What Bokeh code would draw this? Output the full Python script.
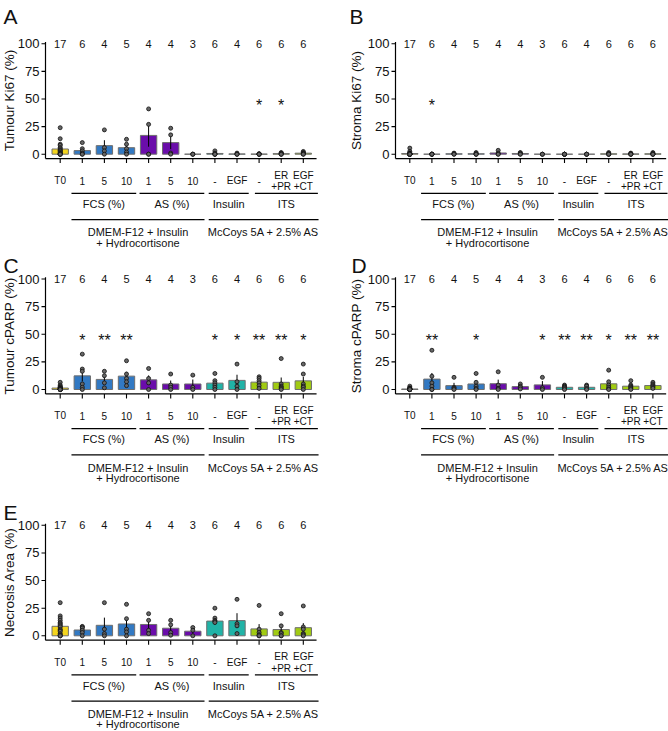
import numpy as np
from bokeh.plotting import figure
from bokeh.models import Range1d, ColumnDataSource
from bokeh.layouts import column, row
from bokeh.core.properties import value
from bokeh.embed import file_html
from bokeh.resources import INLINE

FONT = "Liberation Sans"

# ---------------- data ----------------
conditions = ["T0", "FCS 1", "FCS 5", "FCS 10", "AS 1", "AS 5", "AS 10",
              "Insulin -", "Insulin EGF", "ITS -", "ITS ER+PR", "ITS EGF+CT"]
tick_top = ["T0", "1", "5", "10", "1", "5", "10", "-", "EGF", "-", "ER", "EGF"]
tick_bottom = ["", "", "", "", "", "", "", "", "", "", "+PR", "+CT"]
n_per_condition = ["17", "6", "4", "5", "4", "4", "3", "6", "4", "6", "6", "6"]
condition_colors = ["#F4D51E", "#3279C3", "#3279C3", "#3279C3", "#6A0DAA", "#6A0DAA",
                    "#6A0DAA", "#21B3A7", "#21B3A7", "#A1CB12", "#A1CB12", "#A1CB12"]
group1_labels = ["FCS (%)", "AS (%)", "Insulin", "ITS"]
group2_labels = ["DMEM-F12 + Insulin", "McCoys 5A + 2.5% AS"]
group2_labels_line2 = ["+ Hydrocortisone", ""]
y_ticks = [0, 25, 50, 75, 100]

tumour_ki67 = [
    [24, 14, 9, 8, 6, 5, 4, 3, 3, 2, 1, 1, 0, 0, 0, 0, 0],
    [10.5, 5, 3, 1, 0, 0],
    [22, 6, 3, 0],
    [13.5, 9, 5, 2, 0],
    [41, 27, 0, 0],
    [23.5, 17.5, 1, 0],
    [0, 0, 0],
    [3, 1, 0, 0, 0, 0],
    [1, 0, 0, 0],
    [0.5, 0, 0, 0, 0, 0],
    [1.5, 1, 0.5, 0, 0, 0],
    [2.5, 1.5, 1, 0.5, 0, 0],
]
tumour_ki67_stars = ["", "", "", "", "", "", "", "", "", "*", "*", ""]

stroma_ki67 = [
    [5.5, 2.5, 1, 1, 0.5, 0, 0, 0, 0, 0, 0, 0, 0, 0, 0, 0, 0],
    [0, 0, 0, 0, 0, 0],
    [1, 0.5, 0, 0],
    [1.5, 0.5, 0, 0, 0],
    [3.5, 1, 0, 0],
    [1.5, 1, 0, 0],
    [0, 0, 0],
    [0, 0, 0, 0, 0, 0],
    [0, 0, 0, 0],
    [1.5, 0.5, 0, 0, 0, 0],
    [1, 0.5, 0, 0, 0, 0],
    [1.5, 0.5, 0, 0, 0, 0],
]
stroma_ki67_stars = ["", "*", "", "", "", "", "", "", "", "", "", ""]

tumour_cparp = [
    [6.5, 4, 3, 2, 2, 1.5, 1, 1, 0.5, 0.5, 0, 0, 0, 0, 0, 0, 0],
    [32, 18.5, 16.5, 5, 2, 0],
    [16.5, 12.5, 6, 1.5],
    [26, 14, 10, 7, 3.5],
    [19, 10, 6, 0],
    [14, 4, 2, 0],
    [13, 2, 0],
    [14.5, 8, 6, 4, 2, 0],
    [23, 7, 3, 0],
    [11.5, 10, 8, 6, 3.5, 1],
    [28, 5, 3, 2, 1, 0],
    [23, 14, 5, 3, 2, 0],
]
tumour_cparp_stars = ["", "*", "**", "**", "", "", "", "*", "*", "**", "**", "*"]

stroma_cparp = [
    [3, 1.5, 1, 1, 0.5, 0.5, 0.5, 0, 0, 0, 0, 0, 0, 0, 0, 0, 0],
    [35.5, 12, 6, 3, 0, 0],
    [11, 2, 1, 0],
    [14.5, 6.5, 3, 1, 0],
    [16, 4, 1, 0],
    [5, 3, 2, 0.5],
    [11, 1.5, 0],
    [4, 3, 2, 2, 1, 0],
    [4, 3, 1, 0],
    [17.5, 7, 4, 2, 0.5, 0],
    [8, 4, 3, 2, 1, 0],
    [6.5, 5, 4, 3, 2, 1],
]
stroma_cparp_stars = ["", "**", "", "*", "", "", "*", "**", "**", "*", "**", "**"]

necrosis_area = [
    [30, 18, 16, 14, 12, 11, 10, 9, 8, 6, 5, 4, 2, 1, 0, 0, 0],
    [8.5, 8, 7, 5, 3, 0],
    [30, 6, 2, 0],
    [28.5, 15.5, 6, 3.5, 0],
    [20, 14, 5, 2],
    [14, 10, 3, 0.5],
    [7.5, 5, 0],
    [25, 16, 14, 13, 12, 0],
    [33, 11, 9, 2],
    [27.5, 6, 3, 1, 0, 0],
    [20, 9, 3, 2, 0, 0],
    [27, 8, 6, 2, 1, 0],
]
necrosis_area_stars = [""] * 12

# ---------------- layout constants (page pixels / category units) ----------------
GROUP1_SPANS = [(0.51, 3.44), (3.59, 6.52), (6.72, 8.53), (8.81, 11.66)]
GROUP2_SPANS = [(0.51, 6.53), (6.72, 11.69)]
SY = 1.105          # px per % unit
BAR_W = 0.74
STAR_Y = 44
TXT = "#111111"


def txt(p, x, y, t, size, align="center", baseline="middle", angle=0.0,
        xr=None, yr=None, color=TXT):
    kw = {}
    if xr:
        kw["x_range_name"] = xr
    if yr:
        kw["y_range_name"] = yr
    p.text(x=x, y=y, text=t, text_font=value(FONT), text_font_size=f"{size}px",
           text_align=align, text_baseline=baseline, angle=angle,
           text_color=color, **kw)


def make_panel(letter, ytitle, pts, stars, g):
    ox, oy, W, H = g["ox"], g["oy"], g["W"], g["H"]
    ax, c0, sx, y0 = g["axis_x"], g["cat0"], g["ppux"], g["y0"]
    xaxis = y0 + 4.4
    ytop = y0 - 101.5 * SY
    xr = Range1d((ox - c0) / sx, (ox + W - c0) / sx)
    yr = Range1d((y0 - (oy + H)) / SY, (y0 - oy) / SY)
    p = figure(width=W, height=H, x_range=xr, y_range=yr, output_backend="svg",
               toolbar_location=None, x_axis_location=None, y_axis_location=None,
               min_border=0, title=None)
    p.grid.grid_line_color = None
    p.xgrid.visible = False
    p.ygrid.visible = False
    p.outline_line_color = None
    p.background_fill_color = "white"
    p.border_fill_color = "white"
    p.extra_x_ranges = {"px": Range1d(ox, ox + W)}
    p.extra_y_ranges = {"py": Range1d(oy + H, oy)}

    idx = list(range(len(pts)))
    means = [float(np.mean(v)) for v in pts]
    ses = [float(np.std(v, ddof=1) / np.sqrt(len(v))) for v in pts]
    src = ColumnDataSource(dict(x=idx, top=means, color=condition_colors,
                                lo=[m - s for m, s in zip(means, ses)],
                                hi=[m + s for m, s in zip(means, ses)]))
    p.vbar(x="x", top="top", bottom=0, width=BAR_W, fill_color="color",
           line_color="#6e6e6e", line_width=1, source=src)
    p.segment(x0="x", y0="lo", x1="x", y1="hi", line_color="black",
              line_width=1, source=src)
    pxs = [i for i, v in enumerate(pts) for _ in v]
    pys = [y for v in pts for y in v]
    p.scatter(pxs, pys, size=4, marker="circle", fill_color="#666666",
              line_color="#111111", line_width=0.8)

    # counts and stars
    txt(p, idx, [100] * len(idx), n_per_condition, 11)
    txt(p, idx, [STAR_Y] * len(idx), stars, 16)

    # y axis
    p.segment(x0=[ax], y0=[xaxis], x1=[ax], y1=[ytop], line_color="black",
              line_width=1.2, x_range_name="px", y_range_name="py")
    p.segment(x0=[ax - 4] * 5, y0=y_ticks, x1=[ax] * 5, y1=y_ticks,
              line_color="black", line_width=1.1, x_range_name="px")
    txt(p, [ax - 6] * 5, y_ticks, [str(t) for t in y_ticks], 13, align="right",
        xr="px")
    txt(p, [g["title_x"]], [48.5], [ytitle], 13.5, angle=np.pi / 2, xr="px")

    # x axis
    xend = c0 + 11.6 * sx
    p.segment(x0=[ax], y0=[xaxis], x1=[xend], y1=[xaxis], line_color="black",
              line_width=1.2, x_range_name="px", y_range_name="py")
    p.segment(x0=idx, y0=[xaxis] * 12, x1=idx, y1=[xaxis + 4.5] * 12,
              line_color="black", line_width=1.1, y_range_name="py")
    single = [i for i in idx if tick_bottom[i] == ""]
    double = [i for i in idx if tick_bottom[i] != ""]
    txt(p, single, [xaxis + 22] * len(single), [tick_top[i] for i in single],
        10, yr="py")
    txt(p, double, [xaxis + 16.5] * len(double), [tick_top[i] for i in double],
        10, yr="py")
    txt(p, double, [xaxis + 28] * len(double), [tick_bottom[i] for i in double],
        10, yr="py")

    # group brackets
    p.segment(x0=[a for a, b in GROUP1_SPANS], y0=[xaxis + 34.7] * 4,
              x1=[b for a, b in GROUP1_SPANS], y1=[xaxis + 34.7] * 4,
              line_color="black", line_width=1.2, y_range_name="py")
    txt(p, [(a + b) / 2 for a, b in GROUP1_SPANS], [xaxis + 45.5] * 4,
        group1_labels, 11, yr="py")
    p.segment(x0=[a for a, b in GROUP2_SPANS], y0=[xaxis + 61] * 2,
              x1=[b for a, b in GROUP2_SPANS], y1=[xaxis + 61] * 2,
              line_color="black", line_width=1.2, y_range_name="py")
    txt(p, [(a + b) / 2 for a, b in GROUP2_SPANS], [xaxis + 73.7] * 2,
        group2_labels, 11, yr="py")
    txt(p, [(a + b) / 2 for a, b in GROUP2_SPANS], [xaxis + 84] * 2,
        group2_labels_line2, 11, yr="py")

    # panel letter
    txt(p, [g["letter_x"]], [g["letter_y"]], [letter], 21, align="left",
        baseline="alphabetic", xr="px", yr="py")
    return p


left = dict(ox=0, W=334, axis_x=45, cat0=59.7, ppux=22.1, title_x=8.5, letter_x=3)
right = dict(ox=334, W=334, axis_x=395, cat0=409.3, ppux=22.1, title_x=356)

gA = dict(left, oy=0, H=248, y0=153.7, letter_y=16)
gB = dict(right, oy=0, H=248, y0=153.7, letter_x=349, letter_y=16)
gC = dict(left, oy=248, H=240, y0=389, letter_y=265)
gD = dict(right, oy=248, H=240, y0=389, letter_x=351, letter_y=265)
gE = dict(left, oy=488, H=243, y0=635.3, letter_y=512)

pA = make_panel("A", "Tumour Ki67 (%)", tumour_ki67, tumour_ki67_stars, gA)
pB = make_panel("B", "Stroma Ki67 (%)", stroma_ki67, stroma_ki67_stars, gB)
pC = make_panel("C", "Tumour cPARP (%)", tumour_cparp, tumour_cparp_stars, gC)
pD = make_panel("D", "Stroma cPARP (%)", stroma_cparp, stroma_cparp_stars, gD)
pE = make_panel("E", "Necrosis Area (%)", necrosis_area, necrosis_area_stars, gE)

layout = column(row(pA, pB), row(pC, pD), row(pE))
open("out.html", "w").write(file_html(layout, INLINE))
